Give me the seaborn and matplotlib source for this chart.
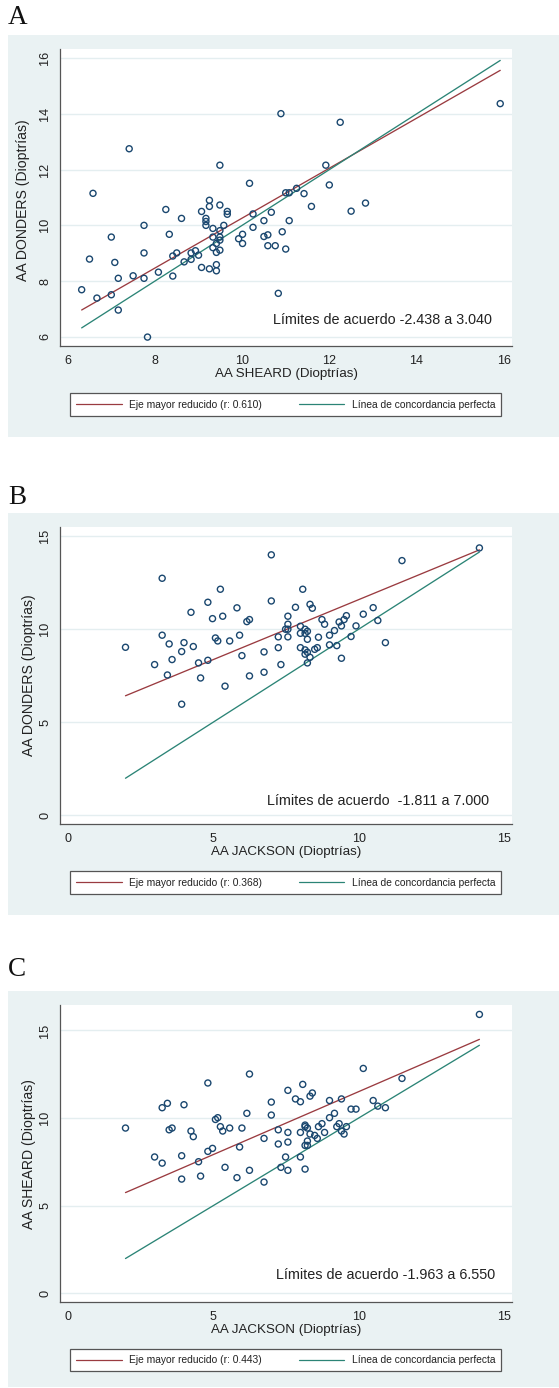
import numpy as np
import matplotlib
matplotlib.use('Agg')
import matplotlib.pyplot as plt
import seaborn as sns
from matplotlib.patches import Rectangle
from matplotlib.lines import Line2D

# --- values ---
# Panel A: SHEARD (x) vs DONDERS (y)
a_sheard = [6.32, 6.50, 6.58, 6.67, 7.00, 7.00, 7.08, 7.16, 7.16, 7.41, 7.50, 7.75, 7.75, 7.75,
            7.83, 8.08, 8.25, 8.33, 8.41, 8.41, 8.50, 8.61, 8.67, 8.83, 8.83, 8.93, 9.00, 9.07,
            9.07, 9.17, 9.17, 9.17, 9.25, 9.25, 9.25, 9.33, 9.33, 9.33, 9.41, 9.41, 9.41, 9.41,
            9.49, 9.49, 9.49, 9.49, 9.49, 9.49, 9.58, 9.66, 9.66, 9.92, 10.01, 10.01, 10.17,
            10.25, 10.25, 10.50, 10.50, 10.59, 10.59, 10.67, 10.76, 10.83, 10.89, 10.92, 11.00,
            11.00, 11.08, 11.08, 11.25, 11.42, 11.59, 11.92, 12.00, 12.25, 12.50, 12.83, 15.92]
a_donders = [7.69, 8.79, 11.15, 7.39, 9.58, 7.51, 8.67, 8.10, 6.96, 12.75, 8.19, 10.00, 9.01, 8.10,
             5.99, 8.32, 10.57, 9.68, 8.90, 8.18, 9.01, 10.25, 8.69, 9.01, 8.78, 9.09, 8.93, 10.50,
             8.49, 10.25, 10.14, 10.00, 10.90, 10.68, 8.44, 9.89, 9.58, 9.20, 9.35, 9.03, 8.59, 8.37,
             12.16, 10.73, 9.81, 9.58, 9.47, 9.11, 10.00, 10.50, 10.40, 9.52, 9.68, 9.35, 11.51,
             10.41, 9.93, 10.17, 9.60, 9.66, 9.27, 10.47, 9.27, 7.56, 14.01, 9.77, 9.15,
             11.17, 11.17, 10.17, 11.33, 11.14, 10.68, 12.16, 11.45, 13.70, 10.51, 10.80, 14.37]

# Panel B: JACKSON (x) vs DONDERS (y)
b_jackson = [1.99, 2.99, 3.25, 3.25, 3.43, 3.49, 3.59, 3.92, 3.92, 4.00, 4.24, 4.32, 4.50, 4.57,
             4.82, 4.82, 4.98, 5.08, 5.16, 5.25, 5.33, 5.41, 5.57, 5.82, 5.91, 5.99, 6.16, 6.25,
             6.25, 6.75, 6.75, 7.00, 7.00, 7.24, 7.24, 7.33, 7.49, 7.57, 7.57, 7.57, 7.57, 7.83,
             8.00, 8.00, 8.00, 8.08, 8.16, 8.16, 8.16, 8.16, 8.24, 8.24, 8.24, 8.24, 8.33, 8.33,
             8.41, 8.49, 8.58, 8.62, 8.74, 8.83, 9.00, 9.00, 9.17, 9.25, 9.33, 9.41, 9.41, 9.50,
             9.58, 9.74, 9.91, 10.16, 10.50, 10.66, 10.92, 11.49, 14.15]
b_donders = [9.03, 8.10, 12.74, 9.68, 7.54, 9.21, 8.37, 8.80, 5.97, 9.28, 10.91, 9.07, 8.19, 7.38,
             8.33, 11.45, 10.57, 9.53, 9.37, 12.15, 10.70, 6.94, 9.37, 11.15, 9.68, 8.58, 10.41, 10.52,
             7.49, 8.78, 7.69, 14.00, 11.52, 9.59, 9.01, 8.10, 10.00, 10.70, 10.27, 10.00, 9.59, 11.18,
             10.16, 9.78, 9.01, 12.15, 10.00, 9.78, 8.89, 8.66, 9.89, 9.46, 8.76, 8.19, 11.34, 8.49,
             11.13, 8.92, 9.01, 9.57, 10.52, 10.27, 9.68, 9.16, 9.93, 9.12, 10.39, 10.18, 8.44, 10.52,
             10.73, 9.61, 10.18, 10.81, 11.16, 10.47, 9.28, 13.69, 14.37]

# Panel C: JACKSON (x) vs SHEARD (y)
c_jackson = [1.99, 2.99, 3.25, 3.25, 3.43, 3.49, 3.59, 3.92, 3.92, 4.00, 4.24, 4.32, 4.50, 4.57,
             4.82, 4.82, 4.98, 5.08, 5.16, 5.25, 5.33, 5.41, 5.57, 5.82, 5.91, 5.99, 6.16, 6.25,
             6.25, 6.75, 6.75, 7.00, 7.00, 7.24, 7.24, 7.33, 7.49, 7.57, 7.57, 7.57, 7.57, 7.83,
             8.00, 8.00, 8.00, 8.08, 8.16, 8.16, 8.16, 8.16, 8.24, 8.24, 8.24, 8.33, 8.33, 8.41,
             8.49, 8.58, 8.62, 8.74, 8.83, 9.00, 9.00, 9.17, 9.25, 9.33, 9.41, 9.41, 9.50, 9.58,
             9.74, 9.91, 10.16, 10.50, 10.66, 10.92, 11.49, 14.15]
c_sheard = [9.43, 7.78, 10.59, 7.43, 10.84, 9.33, 9.43, 7.85, 6.52, 10.76, 9.26, 8.94, 7.51, 6.69,
            12.00, 8.10, 8.27, 9.92, 10.02, 9.51, 9.26, 7.19, 9.43, 6.60, 8.35, 9.43, 10.27, 12.51,
            7.02, 8.84, 6.35, 10.91, 10.17, 9.33, 8.52, 7.19, 7.78, 11.58, 9.18, 8.63, 7.02, 11.09,
            10.93, 9.18, 7.78, 11.92, 9.60, 9.51, 8.44, 7.09, 9.43, 8.69, 8.44, 11.25, 9.09, 11.43,
            9.01, 8.84, 9.51, 9.68, 9.18, 11.00, 10.02, 10.27, 9.51, 9.68, 11.09, 9.26, 9.09, 9.51,
            10.51, 10.51, 12.83, 11.00, 10.68, 10.59, 12.26, 15.91]

# reduced major axis lines (intercept, slope)
rma_a = (1.30, 0.896)
rma_b = (5.14, 0.645)
rma_c = (4.32, 0.7185)

r_values = ['0.610', '0.368', '0.443']
limit_texts = ['Límites de acuerdo -2.438 a 3.040',
               'Límites de acuerdo  -1.811 a 7.000',
               'Límites de acuerdo -1.963 a 6.550']

# --- style ---
sns.set_style('white')
plt.rcParams['font.family'] = ['Liberation Sans', 'DejaVu Sans']

W, H = 559, 1388
BG = '#eaf2f3'
GRID = '#e4eef0'
NAVY = '#1a476f'
RED = '#9a3b40'
TEAL = '#2b8476'
AXC = '#555555'
TXT = '#222222'


def fig_rect(left, top, right, bottom):
    return [left / W, 1 - bottom / H, (right - left) / W, (bottom - top) / H]


panels = [
    dict(letter='A', x=a_sheard, y=a_donders, rma=rma_a, r=r_values[0], note=limit_texts[0],
         xlabel='AA SHEARD (Dioptrías)', ylabel='AA DONDERS (Dioptrías)',
         xlim=(5.83, 16.19), ylim=(5.67, 16.32), xticks=[6, 8, 10, 12, 14, 16], yticks=[6, 8, 10, 12, 14, 16],
         note_xy=(15.73, 6.6), letter_top=5, bg=(35, 437), ax_top=49.3, ax_bottom=346,
         leg=(392, 417), ylab_x=-0.066, ylab_y=0.49),
    dict(letter='B', x=b_jackson, y=b_donders, rma=rma_b, r=r_values[1], note=limit_texts[1],
         xlabel='AA JACKSON (Dioptrías)', ylabel='AA DONDERS (Dioptrías)',
         xlim=(-0.25, 15.27), ylim=(-0.47, 15.48), xticks=[0, 5, 10, 15], yticks=[0, 5, 10, 15],
         note_xy=(14.48, 0.79), letter_top=485, bg=(513, 915), ax_top=527.3, ax_bottom=824,
         leg=(870, 895), ylab_x=-0.053, ylab_y=0.5),
    dict(letter='C', x=c_jackson, y=c_sheard, rma=rma_c, r=r_values[2], note=limit_texts[2],
         xlabel='AA JACKSON (Dioptrías)', ylabel='AA SHEARD (Dioptrías)',
         xlim=(-0.25, 15.27), ylim=(-0.49, 16.43), xticks=[0, 5, 10, 15], yticks=[0, 5, 10, 15],
         note_xy=(14.69, 1.05), letter_top=957.5, bg=(991, 1387), ax_top=1005.3, ax_bottom=1302,
         leg=(1347.7, 1372.7), ylab_x=-0.053, ylab_y=0.5),
]

fig = plt.figure(figsize=(W / 100, H / 100), dpi=100)

for p in panels:
    # light panel background, kept behind the axes
    fig.patches.append(Rectangle((8 / W, 1 - p['bg'][1] / H), (W - 8) / W, (p['bg'][1] - p['bg'][0]) / H,
                                 transform=fig.transFigure, facecolor=BG, edgecolor='none', zorder=-10))
    fig.text(8 / W, 1 - p['letter_top'] / H, p['letter'], ha='left', va='top', fontsize=19.5,
             family=['Liberation Serif', 'DejaVu Serif'], color='#111111')

    ax = fig.add_axes(fig_rect(60.3, p['ax_top'], 512, p['ax_bottom']))
    ax.set_zorder(1)
    ax.set_facecolor('white')

    x = np.array(p['x'])
    y = np.array(p['y'])
    xs = np.array([x.min(), x.max()])
    b0, b1 = p['rma']

    sns.lineplot(x=xs, y=b0 + b1 * xs, ax=ax, color=RED, linewidth=0.95, zorder=2)
    sns.lineplot(x=xs, y=xs, ax=ax, color=TEAL, linewidth=0.95, zorder=2)
    sns.scatterplot(x=x, y=y, ax=ax, marker='o', s=19, facecolor='none', edgecolor=NAVY,
                    linewidth=1.0, legend=False, zorder=3)

    ax.set_xlim(*p['xlim'])
    ax.set_ylim(*p['ylim'])
    ax.set_xticks(p['xticks'])
    ax.set_yticks(p['yticks'])
    ax.yaxis.grid(True, color=GRID, linewidth=1.0)
    ax.xaxis.grid(False)
    ax.set_axisbelow(True)

    for side in ['top', 'right']:
        ax.spines[side].set_visible(False)
    for side in ['left', 'bottom']:
        ax.spines[side].set_color(AXC)
        ax.spines[side].set_linewidth(0.9)

    ax.tick_params(axis='both', direction='out', length=3.6, width=0.8, color=AXC, labelcolor=TXT)
    ax.tick_params(axis='x', labelsize=9.0, pad=3)
    ax.tick_params(axis='y', labelsize=9.2, pad=3, labelrotation=90)
    for lbl in ax.get_yticklabels():
        lbl.set_va('center')

    ax.set_xlabel(p['xlabel'], fontsize=9.6, color=TXT)
    ax.xaxis.set_label_coords(0.5, -0.075)
    ax.set_ylabel(p['ylabel'], fontsize=10.1, color=TXT)
    ax.yaxis.set_label_coords(p['ylab_x'], p['ylab_y'])

    ax.text(p['note_xy'][0], p['note_xy'][1], p['note'], ha='right', va='center',
            fontsize=10.4, color=TXT)

    handles = [Line2D([], [], color=RED, linewidth=0.9), Line2D([], [], color=TEAL, linewidth=0.9)]
    labels = [f"Eje mayor reducido (r: {p['r']})", 'Línea de concordancia perfecta']
    top, bottom = p['leg']
    leg = ax.legend(handles, labels, loc='center', ncol=2, mode='expand',
                    bbox_to_anchor=(70.3 / W, 1 - bottom / H, 431 / W, (bottom - top) / H),
                    bbox_transform=fig.transFigure, fontsize=7.4, frameon=True, fancybox=False,
                    edgecolor='#555555', framealpha=1, borderpad=0.6, handlelength=4.4,
                    handletextpad=0.7, borderaxespad=0)
    leg.get_frame().set_linewidth(0.9)
    for t in leg.get_texts():
        t.set_color(TXT)

fig.savefig('out.png', dpi=100)
